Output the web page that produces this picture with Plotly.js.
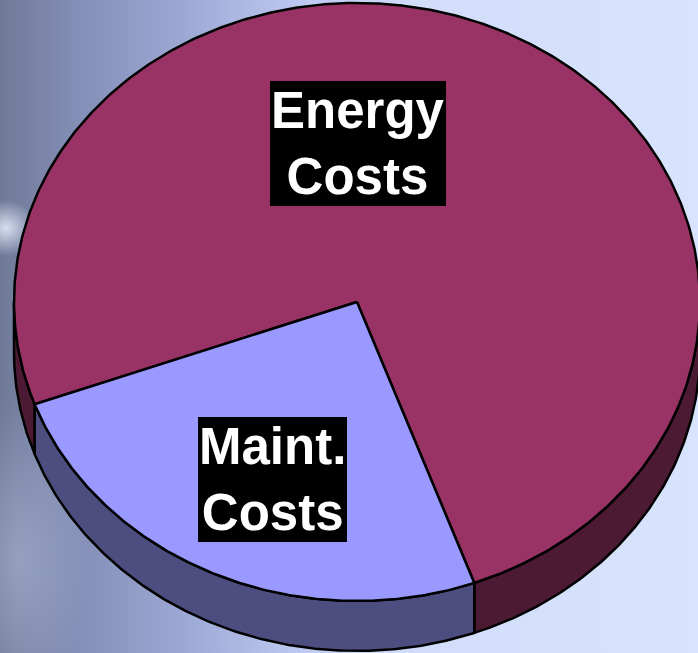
<!DOCTYPE html>
<html>
<head>
<meta charset="utf-8">
<script src="https://cdn.plot.ly/plotly-3.0.1.min.js"></script>
<style>
  html, body { margin: 0; padding: 0; }
  body {
    width: 698px; height: 653px; overflow: hidden;
    background:
      radial-gradient(ellipse 30px 28px at 6px 228px, rgba(235,240,255,0.85), rgba(235,240,255,0) 100%),
      radial-gradient(ellipse 70px 160px at 20px 560px, rgba(190,202,232,0.45), rgba(190,202,232,0) 100%),
      linear-gradient(to right, #707a98 0%, #8490b8 12%, #a0acd8 28%, #c0ccf2 45%, #d2ddfa 60%, #d8e3fd 100%);
  }
  #chart { width: 698px; height: 653px; }
</style>
</head>
<body>
<div id="chart"></div>
<script>
// ---- data ----
const labels = ['Energy Costs', 'Maint. Costs'];
const values = [75, 25];
const labelText = ['Energy<br>Costs', 'Maint.<br>Costs'];

// ---- style ----
const topColors = ['#993366', '#9999FF'];
const sideColors = ['#4D1A33', '#4D4D80'];
const startAngle = 200;   // math degrees, slices run clockwise
const depth = 0.167;      // pie thickness in y units
const labelPos = [[0.513, 0.781], [0.390, 0.265]];

const rad = d => d * Math.PI / 180;
const total = values.reduce((s, v) => s + v, 0);
let cur = startAngle;
const slices = values.map(v => {
  const span = v / total * 360;
  const s = { hi: cur, lo: cur - span };
  cur -= span;
  return s;
});

function arc(a0, a1, dy) {
  const n = Math.max(2, Math.ceil(Math.abs(a1 - a0) / 0.5));
  const xs = [], ys = [];
  for (let i = 0; i <= n; i++) {
    const t = rad(a0 + (a1 - a0) * i / n);
    xs.push(Math.cos(t));
    ys.push(Math.sin(t) + dy);
  }
  return [xs, ys];
}

const traces = [];
// side walls (front half only)
slices.forEach((s, i) => {
  for (let k = -2; k <= 2; k++) {
    const L = Math.max(s.lo, 180 + 360 * k);
    const H = Math.min(s.hi, 360 + 360 * k);
    if (H > L) {
      const [tx, ty] = arc(L, H, 0);
      const [bx, by] = arc(H, L, -depth);
      traces.push({
        type: 'scatter', mode: 'lines', fill: 'toself',
        x: tx.concat(bx, [tx[0]]), y: ty.concat(by, [ty[0]]),
        fillcolor: sideColors[i], line: { color: '#000', width: 2.5 },
        hoverinfo: 'skip', name: labels[i]
      });
    }
  }
});
// top faces
slices.forEach((s, i) => {
  const [ax, ay] = arc(s.lo, s.hi, 0);
  traces.push({
    type: 'scatter', mode: 'lines', fill: 'toself',
    x: [0].concat(ax, [0]), y: [0].concat(ay, [0]),
    fillcolor: topColors[i], line: { color: '#000', width: 2.5 },
    name: labels[i], text: labels[i] + ': ' + values[i] + '%', hoverinfo: 'text'
  });
});

const annotations = labelText.map((t, i) => ({
  xref: 'paper', yref: 'paper', x: labelPos[i][0], y: labelPos[i][1],
  xanchor: 'center', yanchor: 'middle', showarrow: false,
  text: '<b>' + t + '</b>',
  font: { family: 'Liberation Sans, Arial, sans-serif', size: 51, color: '#ffffff' },
  bgcolor: '#000000', borderpad: 1, borderwidth: 0
}));

const layout = {
  width: 698, height: 653,
  margin: { l: 0, r: 0, t: 0, b: 0 },
  paper_bgcolor: 'rgba(0,0,0,0)', plot_bgcolor: 'rgba(0,0,0,0)',
  showlegend: false,
  xaxis: { range: [-1.0408, 0.9942], visible: false, fixedrange: true },
  yaxis: { range: [-1.174, 1.010], visible: false, fixedrange: true },
  annotations: annotations
};

Plotly.newPlot('chart', traces, layout, { displayModeBar: false, staticPlot: true });
</script>
</body>
</html>
